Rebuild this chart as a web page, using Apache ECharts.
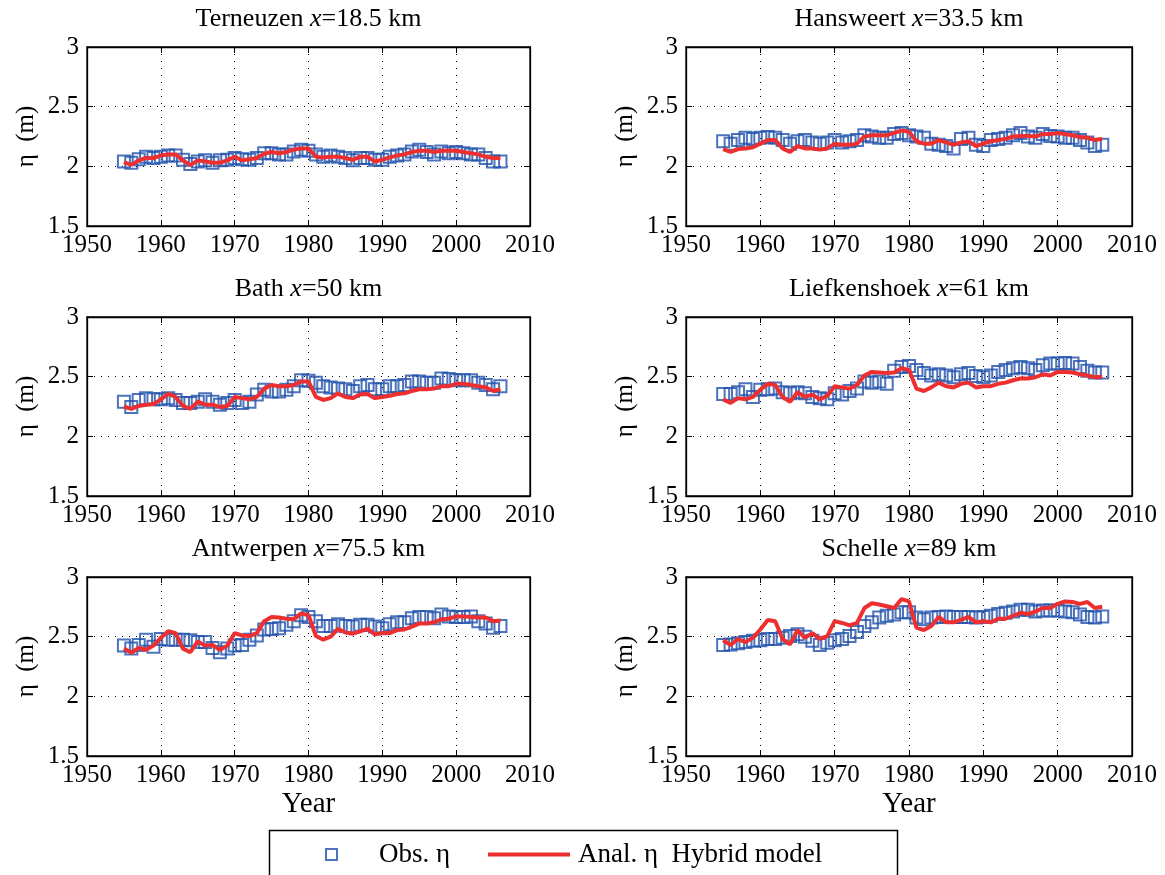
<!DOCTYPE html>
<html>
<head>
<meta charset="utf-8">
<script src="https://cdn.jsdelivr.net/npm/echarts@6/dist/echarts.min.js"></script>
<style>
  html, body { margin: 0; padding: 0; background: #fff; }
  #main { width: 1165px; height: 875px; }
</style>
</head>
<body>
<div id="main"></div>
<script>
// years of the yearly means
var years = [1955, 1956, 1957, 1958, 1959, 1960, 1961, 1962, 1963, 1964,
  1965, 1966, 1967, 1968, 1969, 1970, 1971, 1972, 1973, 1974,
  1975, 1976, 1977, 1978, 1979, 1980, 1981, 1982, 1983, 1984,
  1985, 1986, 1987, 1988, 1989, 1990, 1991, 1992, 1993, 1994,
  1995, 1996, 1997, 1998, 1999, 2000, 2001, 2002, 2003, 2004,
  2005, 2006];

var stationNames = ["Terneuzen", "Hansweert", "Bath", "Liefkenshoek", "Antwerpen", "Schelle"];
var stationKm = ["18.5", "33.5", "50", "61", "75.5", "89"];

var xTicks = [1950, 1960, 1970, 1980, 1990, 2000, 2010];
var yTicks = [1.5, 2, 2.5, 3];

// observed (squares)
var obsTerneuzen = [2.04, 2.03, 2.06, 2.08, 2.07, 2.08, 2.09, 2.09, 2.055, 2.02,
  2.04, 2.05, 2.03, 2.05, 2.055, 2.07, 2.06, 2.055, 2.07, 2.11,
  2.11, 2.10, 2.10, 2.125, 2.14, 2.13, 2.10, 2.08, 2.09, 2.08,
  2.07, 2.05, 2.07, 2.07, 2.055, 2.055, 2.08, 2.09, 2.10, 2.125,
  2.14, 2.12, 2.10, 2.125, 2.11, 2.12, 2.11, 2.10, 2.10, 2.07,
  2.04, 2.04];
var obsHansweert = [2.21, 2.19, 2.22, 2.24, 2.23, 2.24, 2.245, 2.24, 2.22, 2.19,
  2.21, 2.22, 2.20, 2.19, 2.20, 2.22, 2.20, 2.21, 2.22, 2.26,
  2.25, 2.24, 2.24, 2.27, 2.28, 2.26, 2.25, 2.24, 2.19, 2.18,
  2.17, 2.15, 2.23, 2.24, 2.18, 2.17, 2.22, 2.23, 2.24, 2.26,
  2.28, 2.25, 2.24, 2.27, 2.255, 2.25, 2.24, 2.24, 2.22, 2.20,
  2.17, 2.18];
var obsBath = [2.29, 2.245, 2.305, 2.32, 2.31, 2.31, 2.32, 2.305, 2.28, 2.28,
  2.29, 2.31, 2.29, 2.265, 2.28, 2.305, 2.28, 2.29, 2.35, 2.39,
  2.375, 2.375, 2.39, 2.42, 2.47, 2.465, 2.45, 2.42, 2.41, 2.40,
  2.395, 2.38, 2.42, 2.43, 2.395, 2.395, 2.42, 2.42, 2.43, 2.46,
  2.46, 2.45, 2.45, 2.485, 2.48, 2.47, 2.47, 2.47, 2.45, 2.43,
  2.395, 2.42];
var obsLiefkenshoek = [2.355, 2.355, 2.37, 2.395, 2.33, 2.39, 2.395, 2.40, 2.37, 2.36,
  2.37, 2.36, 2.33, 2.32, 2.31, 2.36, 2.35, 2.38, 2.40, 2.46,
  2.45, 2.46, 2.44, 2.55, 2.58, 2.59, 2.555, 2.53, 2.51, 2.52,
  2.51, 2.495, 2.52, 2.53, 2.505, 2.495, 2.51, 2.54, 2.555, 2.57,
  2.58, 2.57, 2.555, 2.595, 2.61, 2.61, 2.615, 2.61, 2.58, 2.55,
  2.535, 2.535];
var obsAntwerpen = [2.425, 2.40, 2.43, 2.475, 2.415, 2.48, 2.475, 2.475, 2.475, 2.47,
  2.455, 2.455, 2.405, 2.37, 2.40, 2.425, 2.43, 2.475, 2.51, 2.56,
  2.565, 2.57, 2.60, 2.63, 2.68, 2.665, 2.63, 2.59, 2.59, 2.605,
  2.59, 2.585, 2.60, 2.60, 2.585, 2.57, 2.605, 2.62, 2.62, 2.655,
  2.665, 2.665, 2.655, 2.685, 2.67, 2.665, 2.665, 2.67, 2.63, 2.61,
  2.575, 2.59];
var obsSchelle = [2.43, 2.435, 2.445, 2.455, 2.465, 2.47, 2.48, 2.48, 2.49, 2.505,
  2.52, 2.50, 2.465, 2.43, 2.45, 2.47, 2.48, 2.505, 2.54, 2.59,
  2.62, 2.66, 2.675, 2.685, 2.705, 2.705, 2.66, 2.645, 2.66, 2.665,
  2.67, 2.665, 2.665, 2.665, 2.66, 2.665, 2.675, 2.69, 2.70, 2.71,
  2.725, 2.725, 2.71, 2.72, 2.72, 2.72, 2.71, 2.705, 2.685, 2.665,
  2.66, 2.67];

// analytical hybrid model (red line)
var modTerneuzen = [2.033, 2.014, 2.05, 2.07, 2.07, 2.09, 2.10, 2.10, 2.05, 2.01,
  2.05, 2.04, 2.03, 2.03, 2.05, 2.08, 2.05, 2.06, 2.07, 2.105,
  2.12, 2.11, 2.12, 2.14, 2.15, 2.15, 2.08, 2.075, 2.08, 2.08,
  2.07, 2.055, 2.08, 2.08, 2.04, 2.055, 2.075, 2.09, 2.10, 2.12,
  2.13, 2.13, 2.12, 2.13, 2.13, 2.13, 2.12, 2.11, 2.10, 2.08,
  2.07, 2.07];
var modHansweert = [2.145, 2.12, 2.145, 2.15, 2.16, 2.19, 2.22, 2.22, 2.15, 2.12,
  2.17, 2.15, 2.15, 2.14, 2.15, 2.19, 2.18, 2.18, 2.19, 2.25,
  2.26, 2.26, 2.26, 2.28, 2.30, 2.29, 2.21, 2.19, 2.19, 2.22,
  2.20, 2.18, 2.20, 2.21, 2.17, 2.19, 2.21, 2.22, 2.23, 2.25,
  2.255, 2.255, 2.25, 2.27, 2.27, 2.28, 2.27, 2.26, 2.245, 2.24,
  2.22, 2.23];
var modBath = [2.25, 2.23, 2.255, 2.265, 2.27, 2.31, 2.355, 2.33, 2.255, 2.23,
  2.29, 2.265, 2.265, 2.245, 2.255, 2.33, 2.32, 2.31, 2.33, 2.40,
  2.43, 2.42, 2.42, 2.43, 2.46, 2.46, 2.33, 2.305, 2.32, 2.36,
  2.33, 2.32, 2.35, 2.355, 2.32, 2.33, 2.34, 2.355, 2.36, 2.38,
  2.395, 2.395, 2.40, 2.42, 2.42, 2.44, 2.44, 2.43, 2.42, 2.41,
  2.38, 2.395];
var modLiefkenshoek = [2.31, 2.28, 2.32, 2.31, 2.33, 2.39, 2.44, 2.43, 2.33, 2.29,
  2.37, 2.33, 2.35, 2.31, 2.34, 2.42, 2.41, 2.40, 2.43, 2.51,
  2.54, 2.535, 2.53, 2.535, 2.57, 2.555, 2.40, 2.38, 2.41, 2.45,
  2.42, 2.41, 2.44, 2.45, 2.41, 2.42, 2.42, 2.44, 2.45, 2.47,
  2.485, 2.485, 2.495, 2.52, 2.51, 2.54, 2.54, 2.535, 2.52, 2.51,
  2.495, 2.50];
var modAntwerpen = [2.40, 2.365, 2.405, 2.39, 2.425, 2.49, 2.545, 2.53, 2.40, 2.37,
  2.46, 2.425, 2.43, 2.39, 2.425, 2.53, 2.51, 2.505, 2.53, 2.63,
  2.665, 2.66, 2.65, 2.645, 2.695, 2.68, 2.505, 2.475, 2.50, 2.565,
  2.535, 2.525, 2.545, 2.565, 2.52, 2.53, 2.53, 2.555, 2.56, 2.585,
  2.61, 2.61, 2.62, 2.645, 2.65, 2.67, 2.67, 2.665, 2.66, 2.66,
  2.63, 2.635];
var modSchelle = [2.47, 2.43, 2.48, 2.455, 2.49, 2.56, 2.64, 2.63, 2.48, 2.435,
  2.555, 2.49, 2.53, 2.48, 2.505, 2.63, 2.615, 2.595, 2.615, 2.74,
  2.78, 2.77, 2.755, 2.74, 2.815, 2.795, 2.575, 2.555, 2.59, 2.665,
  2.62, 2.62, 2.64, 2.665, 2.62, 2.63, 2.62, 2.65, 2.65, 2.675,
  2.70, 2.69, 2.71, 2.74, 2.74, 2.775, 2.795, 2.79, 2.775, 2.79,
  2.74, 2.75];

var obsAll = [obsTerneuzen, obsHansweert, obsBath, obsLiefkenshoek, obsAntwerpen, obsSchelle];
var modAll = [modTerneuzen, modHansweert, modBath, modLiefkenshoek, modAntwerpen, modSchelle];

var OBS_NAME = "Obs. \u03b7";
var MOD_NAME = "Anal. \u03b7  Hybrid model";
var BLUE = "#1f50aa";
var RED = "#ee2f2f";
var FONT = "Liberation Serif";

var colLeft = [87, 686];
var colWidth = [443, 446];
var rowTop = [47, 317, 577];
var rowHeight = 179;

var grids = [], xAxes = [], yAxes = [], series = [];

function pairs(vals) {
  return years.map(function (y, k) { return [y, vals[k]]; });
}

for (var i = 0; i < 6; i++) {
  var col = i % 2, row = Math.floor(i / 2);
  grids.push({
    left: colLeft[col], top: rowTop[row], width: colWidth[col], height: rowHeight,
    show: true, borderColor: "#000", borderWidth: 1.3, backgroundColor: "#fff",
    outerBoundsMode: "none"
  });
  // bottom x axis
  xAxes.push({
    type: "value", gridIndex: i, position: "bottom",
    min: xTicks[0], max: xTicks[xTicks.length - 1], interval: 10,
    name: row === 2 ? "Year" : "",
    nameLocation: "middle", nameGap: 34,
    nameTextStyle: { fontFamily: FONT, fontSize: 29, color: "#000" },
    axisLine: { lineStyle: { color: "#000", width: 1.3 } },
    axisTick: { inside: true, length: 6, lineStyle: { color: "#000" } },
    axisLabel: { fontFamily: FONT, fontSize: 25, color: "#000", margin: 7,
      formatter: function (v) { return String(v); } },
    splitLine: { show: true, lineStyle: { color: "#000", type: [1, 6], width: 1 } }
  });
  // top x axis carries the panel title
  xAxes.push({
    type: "value", gridIndex: i, position: "top",
    min: xTicks[0], max: xTicks[xTicks.length - 1], interval: 10,
    name: "{n|" + stationNames[i] + " }{i|x}{n|=" + stationKm[i] + " km}",
    nameLocation: "middle", nameGap: 15,
    nameTextStyle: {
      color: "#000",
      rich: {
        n: { fontFamily: FONT, fontSize: 26, color: "#000" },
        i: { fontFamily: FONT, fontSize: 26, color: "#000", fontStyle: "italic" }
      }
    },
    axisLine: { lineStyle: { color: "#000", width: 1.3 } },
    axisTick: { inside: true, length: 6, lineStyle: { color: "#000" } },
    axisLabel: { show: false },
    splitLine: { show: false }
  });
  // left y axis
  yAxes.push({
    type: "value", gridIndex: i, position: "left",
    min: yTicks[0], max: yTicks[yTicks.length - 1], interval: 0.5,
    name: "\u03b7  (m)", nameLocation: "middle", nameGap: 48, nameRotate: 90,
    nameTextStyle: { fontFamily: FONT, fontSize: 25, color: "#000" },
    axisLine: { show: true, lineStyle: { color: "#000", width: 1.3 } },
    axisTick: { show: true, inside: true, length: 6, lineStyle: { color: "#000" } },
    axisLabel: { fontFamily: FONT, fontSize: 25, color: "#000", margin: 8 },
    splitLine: { show: true, lineStyle: { color: "#000", type: [1, 6], width: 1 } }
  });
  // right y axis (ticks only)
  yAxes.push({
    type: "value", gridIndex: i, position: "right",
    min: yTicks[0], max: yTicks[yTicks.length - 1], interval: 0.5,
    axisLine: { show: true, lineStyle: { color: "#000", width: 1.3 } },
    axisTick: { show: true, inside: true, length: 6, lineStyle: { color: "#000" } },
    axisLabel: { show: false },
    splitLine: { show: false }
  });

  series.push({
    name: OBS_NAME, type: "scatter",
    xAxisIndex: 2 * i, yAxisIndex: 2 * i,
    data: pairs(obsAll[i]),
    symbol: "rect", symbolSize: 12,
    itemStyle: { color: "transparent", borderColor: BLUE, borderWidth: 2 },
    z: 2
  });
  series.push({
    name: MOD_NAME, type: "line",
    xAxisIndex: 2 * i, yAxisIndex: 2 * i,
    data: pairs(modAll[i]),
    symbol: "none", showSymbol: false,
    lineStyle: { color: RED, width: 4 },
    itemStyle: { color: RED },
    z: 3
  });
}

var chart = echarts.init(document.getElementById("main"), null, { renderer: "canvas" });
chart.setOption({
  backgroundColor: "#fff",
  animation: false,
  grid: grids,
  xAxis: xAxes,
  yAxis: yAxes,
  series: series,
  legend: [
    {
      data: [{ name: OBS_NAME, icon: "rect",
        itemStyle: { color: "transparent", borderColor: BLUE, borderWidth: 2 } }],
      left: 320, top: 836,
      itemWidth: 11, itemHeight: 11,
      selectedMode: false,
      textStyle: { fontFamily: FONT, fontSize: 27, color: "#000", padding: [0, 0, 0, 37] }
    },
    {
      data: [{ name: MOD_NAME, icon: "rect", itemStyle: { color: RED } }],
      left: 483, top: 836,
      itemWidth: 82, itemHeight: 4,
      selectedMode: false,
      textStyle: { fontFamily: FONT, fontSize: 27, color: "#000", padding: [0, 0, 0, 3] }
    }
  ],
  graphic: [{
    type: "rect", left: 267, top: 828,
    shape: { width: 628, height: 46 },
    style: { fill: "none", stroke: "#000", lineWidth: 1.5 },
    z: -1
  }]
});
</script>
</body>
</html>
